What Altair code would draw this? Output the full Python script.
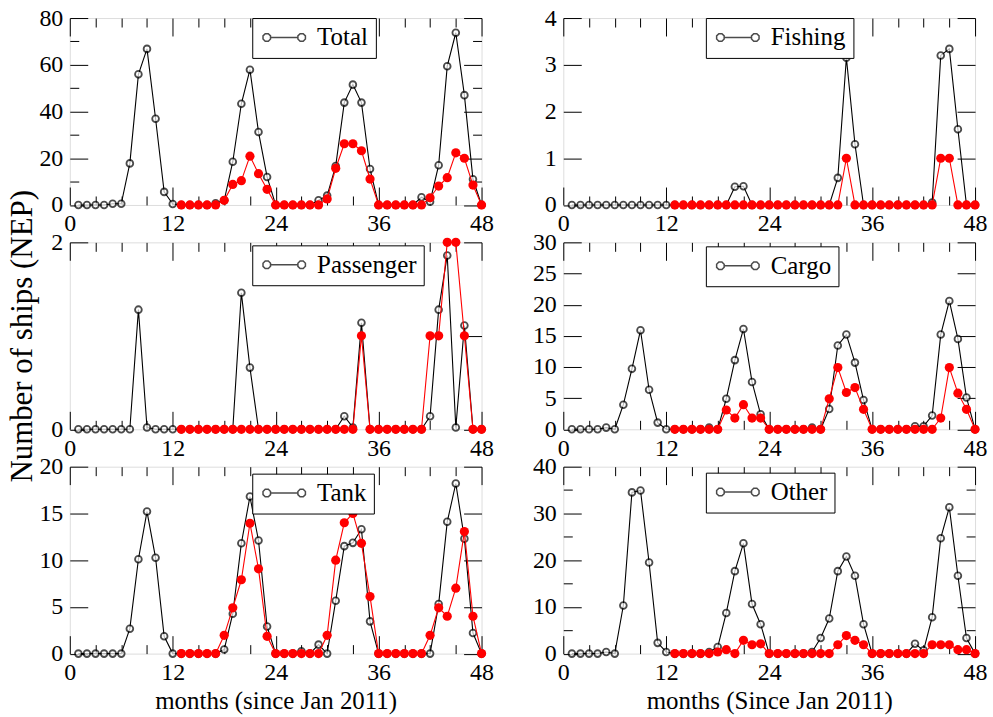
import math
import altair as alt
import pandas as pd

# ---------------- data ----------------
MONTHS_BLACK = list(range(1, 49))
MONTHS_RED = list(range(13, 49))

total_black = [0, 0, 0, 0, 0.5, 0.5, 17.8, 55.9, 66.8, 36.9, 5.6, 0.4,
               0, 0, 0, 0, 0.7, 2, 18.5, 43.3, 57.9, 31.2, 12, 0,
               0, 0, 0, 0, 2, 4, 16.7, 43.8, 51.5, 43.8, 15.4, 0,
               0, 0, 0, 0, 3.3, 1.4, 17, 59.4, 73.7, 47, 11, 0]
total_red = [0, 0, 0, 0, 0, 2, 8.8, 10.4, 20.9, 13.4, 6.7, 0,
             0, 0, 0, 0, 0, 2.6, 15.7, 26.2, 26.2, 23.2, 11.1, 0,
             0, 0, 0, 0, 0, 3.1, 8.1, 11.7, 22.3, 20, 8.5, 0]

fishing_black = [0, 0, 0, 0, 0, 0, 0, 0, 0, 0, 0, 0,
                 0, 0, 0, 0, 0, 0, 0, 0.39, 0.4, 0, 0, 0,
                 0, 0, 0, 0, 0, 0, 0, 0.58, 3.15, 1.3, 0, 0,
                 0, 0, 0, 0, 0, 0, 0.05, 3.2, 3.34, 1.62, 0, 0]
fishing_red = [0, 0, 0, 0, 0, 0, 0, 0, 0, 0, 0, 0,
               0, 0, 0, 0, 0, 0, 0, 0, 1, 0, 0, 0,
               0, 0, 0, 0, 0, 0, 0, 1, 1, 0, 0, 0]

passenger_black = [0, 0, 0, 0, 0, 0, 0, 1.28, 0.02, 0, 0, 0,
                   0, 0, 0, 0, 0, 0, 0, 1.46, 0.66, 0, 0, 0,
                   0, 0, 0, 0, 0, 0, 0, 0.14, 0.02, 1.14, 0, 0,
                   0, 0, 0, 0, 0, 0.14, 1.28, 1.86, 0.02, 1.11, 0, 0]
passenger_red = [0, 0, 0, 0, 0, 0, 0, 0, 0, 0, 0, 0,
                 0, 0, 0, 0, 0, 0, 0, 0, 0, 1, 0, 0,
                 0, 0, 0, 0, 0, 1, 1, 2, 2, 1, 0, 0]

cargo_black = [0, 0, 0, 0, 0.27, 0, 3.95, 9.7, 15.9, 6.35, 1.07, 0,
               0, 0, 0, 0, 0.27, 0, 4.9, 11.1, 16.1, 7.6, 2.4, 0,
               0, 0, 0, 0, 0.27, 0, 3.26, 13.45, 15.2, 10.7, 4.7, 0,
               0, 0, 0, 0, 0.5, 0.5, 2.2, 15.2, 20.6, 14.5, 5.1, 0]
cargo_red = [0, 0, 0, 0, 0, 0, 3.1, 1.8, 3.95, 1.8, 1.8, 0,
             0, 0, 0, 0, 0, 0, 4.9, 9.9, 5.9, 6.7, 3.2, 0,
             0, 0, 0, 0, 0, 0, 0, 1.8, 9.9, 5.8, 3.2, 0]

tank_black = [0, 0, 0, 0, 0, 0, 2.67, 10.1, 15.2, 10.25, 1.85, 0,
              0, 0, 0, 0, 0, 0.43, 4.27, 11.8, 16.8, 12.1, 2.9, 0,
              0, 0, 0.25, 0, 0.96, 0, 5.66, 11.5, 11.85, 13.3, 3.45, 0,
              0, 0, 0, 0, 0, 0, 5.3, 14.1, 18.2, 12.3, 2.2, 0]
tank_red = [0, 0, 0, 0, 0, 1.96, 4.9, 7.9, 13.95, 9.07, 1.85, 0,
            0, 0, 0, 0, 0, 1.96, 10.0, 14.0, 15.0, 11.8, 6.1, 0,
            0, 0, 0, 0, 0, 1.96, 4.9, 4.0, 7.0, 13.06, 4.0, 0]

other_black = [0, 0, 0, 0, 0.35, 0, 10.3, 34.5, 34.9, 19.5, 2.3, 0.35,
               0, 0, 0, 0, 0.35, 1.4, 8.7, 17.65, 23.6, 10.6, 6.3, 0,
               0, 0, 0, 0, 0.35, 3.35, 7.5, 17.65, 20.8, 16.65, 6.3, 0,
               0, 0, 0, 0, 2.1, 0.7, 7.8, 24.7, 31.3, 16.65, 3.35, 0]
other_red = [0, 0, 0, 0, 0, 0.35, 0.85, 0, 2.85, 1.9, 2.1, 0,
             0, 0, 0, 0, 0, 0, 0, 1.9, 3.85, 2.85, 1.9, 0,
             0, 0, 0, 0, 0, 0, 1.9, 1.9, 1.9, 0.85, 0.85, 0]

PANEL_NAMES = ["Total", "Fishing", "Passenger", "Cargo", "Tank", "Other"]
X_MAJOR = [0, 12, 24, 36, 48]
X_MINOR = [3, 6, 9, 15, 18, 21, 27, 30, 33, 39, 42, 45]
Y_TITLE = "Number of ships (NEP)"
X_TITLE_LEFT = "months (since Jan 2011)"
X_TITLE_RIGHT = "months (Since Jan 2011)"

# ---------------- style ----------------
FONT = "Liberation Serif"
W, H = 413, 187.5
MAJ, MIN = 18, 9
LABEL_FS = 24


def octagon(cx, r):
    pts = []
    for k in range(8):
        a = math.radians(22.5 + 45 * k)
        pts.append((cx + r * math.cos(a), r * math.sin(a)))
    return "M" + "L".join(f"{x:.3f},{y:.3f}" for x, y in pts) + "Z"


# legend glyph: short line with an open marker at each end (shifted right)
SHIFT = 1.17
LEG_PATH = (f"M{-1.256 + SHIFT:.3f},0L{1.256 + SHIFT:.3f},0"
            + octagon(-1.628 + SHIFT, 0.38) + octagon(1.628 + SHIFT, 0.38))
LEG_SIZE = 462

BASE = dict(domain=False, grid=False, ticks=True, tickColor="black", tickWidth=1,
            labelFont=FONT, labelFontSize=LABEL_FS, labelColor="black",
            labelFlush=False, labelOverlap=False, titleFont=FONT,
            titleFontWeight="normal", titleColor="black")


def axis(orient, values, length, labels=False, **extra):
    kw = dict(BASE)
    kw.update(orient=orient, values=values, tickSize=length, offset=-length,
              labels=labels, labelPadding=7)
    kw.update(extra)
    return alt.Axis(**kw)


def panel(name, black, red, ymax, ymaj, ymin, lx, ly, xtitle=None, ytitle=None):
    dfb = pd.DataFrame({"month": MONTHS_BLACK, "value": black, "label": name})
    dfr = pd.DataFrame({"month": MONTHS_RED, "value": red})
    xs = alt.Scale(domain=[0, 48], nice=False, zero=False)
    ys = alt.Scale(domain=[0, ymax], nice=False, zero=False)

    xextra = {}
    if xtitle:
        xextra = dict(titleFontSize=25, titleBaseline="alphabetic", titleY=73)
    yextra = dict(format="d")
    if ytitle:
        yextra.update(titleFontSize=31, titleBaseline="alphabetic", titleAngle=270,
                      titleX=-56)

    black_line = alt.Chart(dfb).mark_line(color="black", strokeWidth=1.1).encode(
        x=alt.X("month:Q", scale=xs, title=xtitle,
                axis=axis("bottom", X_MAJOR, MAJ, labels=True, **xextra)),
        y=alt.Y("value:Q", scale=ys, title=ytitle,
                axis=axis("left", ymaj, MAJ, labels=True, **yextra)),
    )
    black_pts = alt.Chart(dfb).mark_point(
        shape="circle", filled=True, fill="white", size=46, strokeWidth=1.8
    ).encode(
        x=alt.X("month:Q", scale=xs, title=None, axis=axis("bottom", X_MINOR, MIN)),
        y=alt.Y("value:Q", scale=ys, title=None,
                axis=axis("left", ymin, MIN) if ymin else None),
        stroke=alt.Stroke(
            "label:N", scale=alt.Scale(range=["black"]),
            legend=alt.Legend(orient="none", legendX=lx, legendY=ly, title=None,
                              symbolType=LEG_PATH, symbolSize=LEG_SIZE,
                              symbolStrokeWidth=1.5, symbolFillColor="white",
                              labelOffset=33,
                              labelFont=FONT, labelFontSize=25, labelColor="black",
                              padding=7, strokeColor="black", fillColor="white",
                              cornerRadius=0),
        ),
    )
    red_line = alt.Chart(dfr).mark_line(color="#ff0000", strokeWidth=1.1).encode(
        x=alt.X("month:Q", scale=xs, title=None, axis=axis("top", X_MAJOR, MAJ)),
        y=alt.Y("value:Q", scale=ys, title=None, axis=axis("right", ymaj, MAJ)),
    )
    red_pts = alt.Chart(dfr).mark_point(
        shape="circle", filled=True, color="#ff0000", size=85, opacity=1
    ).encode(
        x=alt.X("month:Q", scale=xs, title=None, axis=axis("top", X_MINOR, MIN)),
        y=alt.Y("value:Q", scale=ys, title=None,
                axis=axis("right", ymin, MIN) if ymin else None),
    )
    return alt.layer(black_line, black_pts, red_line, red_pts).resolve_axis(
        x="independent", y="independent"
    ).properties(width=W, height=H)


panels = [
    panel("Total", total_black, total_red, 80, [0, 20, 40, 60, 80], [10, 30, 50, 70], 183, 0),
    panel("Fishing", fishing_black, fishing_red, 4, [0, 1, 2, 3, 4], [], 143, 0),
    panel("Passenger", passenger_black, passenger_red, 2, [0, 1, 2], [], 183, 3, ytitle=Y_TITLE),
    panel("Cargo", cargo_black, cargo_red, 30, [0, 5, 10, 15, 20, 25, 30], [], 143, 4),
    panel("Tank", tank_black, tank_red, 20, [0, 5, 10, 15, 20], [], 183, 7, xtitle=X_TITLE_LEFT),
    panel("Other", other_black, other_red, 40, [0, 10, 20, 30, 40], [5, 15, 25, 35], 143, 6,
          xtitle=X_TITLE_RIGHT),
]

chart = alt.concat(
    *panels, columns=2, spacing={"row": 37, "column": 82}, bounds="flush"
).resolve_scale(
    x="independent", y="independent", stroke="independent"
).resolve_legend(stroke="independent").properties(
    padding={"left": 6, "top": 4, "right": 5, "bottom": 5}
).configure_view(stroke="black", strokeWidth=1).configure(
    font=FONT, background="white"
)

chart.save("out.html", embed_options={"renderer": "svg", "actions": False})
